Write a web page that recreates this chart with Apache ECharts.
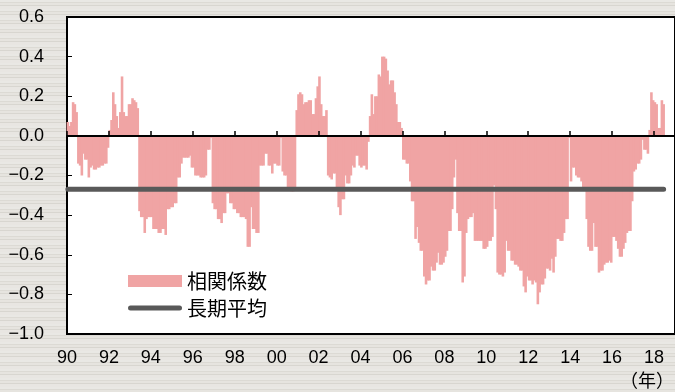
<!DOCTYPE html>
<html>
<head>
<meta charset="utf-8">
<script src="https://cdn.jsdelivr.net/npm/echarts@6/dist/echarts.min.js"></script>
<style>
  html, body { margin: 0; padding: 0; }
  body {
    width: 675px; height: 392px; overflow: hidden;
    background-color: #e3e1dc;
    background-image: repeating-linear-gradient(180deg,
      #e9e8e4 0px, #e9e8e4 2px,
      #dcdad4 2px, #dcdad4 3px,
      #e6e4df 3px, #e6e4df 5px,
      #d8d6d0 5px, #d8d6d0 6px,
      #e8e6e2 6px, #e8e6e2 9px);
  }
  #chart { width: 675px; height: 392px; }
</style>
</head>
<body>
<div id="chart"></div>
<script>
// Monthly correlation coefficient, Jan 1990 onward
const startYear = 1990;
const correlation = [
  // 1990
  0.07, 0.05, 0.07, 0.17, 0.16, 0.12, -0.14, -0.15, -0.20, -0.09, -0.12, -0.12,
  // 1991
  -0.21, -0.16, -0.15, -0.17, -0.17, -0.16, -0.16, -0.15, -0.15, -0.14, -0.14, -0.06,
  // 1992
  0.03, 0.08, 0.22, 0.16, 0.10, 0.04, 0.12, 0.30, 0.12, 0.10, 0.10, 0.16,
  // 1993
  0.16, 0.19, 0.18, 0.17, 0.14, -0.38, -0.41, -0.41, -0.49, -0.42, -0.41, -0.41,
  // 1994
  -0.41, -0.47, -0.47, -0.47, -0.49, -0.49, -0.47, -0.47, -0.50, -0.37, -0.37, -0.36,
  // 1995
  -0.36, -0.34, -0.34, -0.21, -0.21, -0.14, -0.11, -0.11, -0.11, -0.11, -0.10, -0.16,
  // 1996
  -0.16, -0.20, -0.20, -0.20, -0.21, -0.21, -0.21, -0.20, -0.07, -0.07, -0.01, -0.34,
  // 1997
  -0.37, -0.37, -0.42, -0.42, -0.44, -0.39, -0.39, -0.29, -0.29, -0.34, -0.34, -0.37,
  // 1998
  -0.37, -0.39, -0.39, -0.41, -0.41, -0.41, -0.42, -0.56, -0.56, -0.36, -0.47, -0.47,
  // 1999
  -0.49, -0.49, -0.15, -0.15, -0.15, -0.09, -0.09, -0.15, -0.15, -0.19, -0.14, -0.14,
  // 2000
  -0.15, -0.15, -0.01, -0.18, -0.20, -0.20, -0.26, -0.26, -0.28, -0.28, -0.26, 0.13,
  // 2001
  0.21, 0.22, 0.21, 0.16, 0.17, 0.17, 0.18, 0.18, 0.11, 0.11, 0.19, 0.25,
  // 2002
  0.30, 0.16, 0.10, 0.10, 0.13, -0.20, -0.21, -0.22, -0.19, -0.19, -0.26, -0.36,
  // 2003
  -0.40, -0.32, -0.32, -0.20, -0.24, -0.24, -0.20, -0.15, -0.16, -0.10, -0.10, -0.15,
  // 2004
  -0.16, -0.15, -0.15, -0.17, -0.03, 0.10, 0.21, 0.11, 0.20, 0.20, 0.31, 0.30,
  // 2005
  0.40, 0.40, 0.39, 0.33, 0.26, 0.28, 0.28, 0.22, 0.16, 0.07, 0.07, 0.04,
  // 2006
  -0.12, -0.12, -0.14, -0.14, -0.23, -0.33, -0.33, -0.52, -0.46, -0.54, -0.58, -0.58,
  // 2007
  -0.71, -0.75, -0.73, -0.73, -0.66, -0.68, -0.68, -0.64, -0.59, -0.65, -0.65, -0.64,
  // 2008
  -0.61, -0.58, -0.48, -0.48, -0.37, -0.21, -0.12, -0.39, -0.48, -0.48, -0.74, -0.71,
  // 2009
  -0.49, -0.42, -0.41, -0.41, -0.39, -0.53, -0.53, -0.53, -0.53, -0.53, -0.57, -0.57,
  // 2010
  -0.56, -0.53, -0.53, -0.51, -0.25, -0.37, -0.69, -0.70, -0.70, -0.71, -0.69, -0.53,
  // 2011
  -0.58, -0.58, -0.63, -0.63, -0.65, -0.65, -0.66, -0.68, -0.68, -0.76, -0.79, -0.71,
  // 2012
  -0.73, -0.73, -0.75, -0.73, -0.74, -0.85, -0.79, -0.75, -0.75, -0.72, -0.67, -0.67,
  // 2013
  -0.68, -0.62, -0.69, -0.61, -0.52, -0.52, -0.53, -0.53, -0.49, -0.42, -0.42, -0.01,
  // 2014
  -0.23, -0.16, -0.16, -0.20, -0.21, -0.21, -0.23, -0.26, -0.26, -0.42, -0.56, -0.58,
  // 2015
  -0.58, -0.44, -0.56, -0.56, -0.69, -0.68, -0.68, -0.65, -0.64, -0.64, -0.63, -0.64,
  // 2016
  -0.51, -0.51, -0.53, -0.57, -0.61, -0.61, -0.57, -0.54, -0.49, -0.48, -0.48, -0.33,
  // 2017
  -0.18, -0.17, -0.14, -0.14, -0.12, -0.02, -0.07, -0.07, -0.09, 0.03, 0.22, 0.18,
  // 2018
  0.17, 0.16, 0.04, 0.04, 0.18, 0.16
];
const longTermAverage = -0.27;

const seriesNames = ['相関係数', '長期平均'];
const xMin = 1990, xMax = 2019, xStep = 2;
const yMin = -1.0, yMax = 0.6, yStep = 0.2;
const unitLabel = '（年）';

// month i sits at the middle of its month on a decimal-year axis
const monthX = i => startYear + (i + 0.5) / 12;
const barData = correlation.map((v, i) => [monthX(i), v]);
const avgData = correlation.map((_, i) => [monthX(i), longTermAverage]);

const latinFont = '"Liberation Sans", Arial, sans-serif';
const cjkFont = '"Noto Sans CJK JP", sans-serif';

// rounded-bar legend glyph for the average line
const lineIcon = 'path://M2.5,0H51.5A2.5,2.5,0,0,1,51.5,5H2.5A2.5,2.5,0,0,1,2.5,0Z';

const chart = echarts.init(document.getElementById('chart'), null, { renderer: 'canvas' });
chart.setOption({
  animation: false,
  backgroundColor: 'transparent',
  grid: {
    left: 67, top: 17, width: 609, height: 317,
    show: true, backgroundColor: '#ffffff',
    borderColor: '#000000', borderWidth: 2
  },
  legend: {
    data: [
      { name: seriesNames[0], icon: 'rect' },
      { name: seriesNames[1], icon: lineIcon }
    ],
    orient: 'vertical',
    left: 123, top: 266,
    itemWidth: 54, itemHeight: 12, itemGap: 7,
    textStyle: { fontFamily: cjkFont, fontSize: 20, lineHeight: 20, color: '#000' }
  },
  xAxis: [
    {
      // axis along y = 0 with upward ticks
      type: 'value', min: xMin, max: xMax, interval: xStep,
      position: 'bottom', z: 5,
      axisLine: { onZero: true, lineStyle: { color: '#000', width: 2 } },
      axisTick: { inside: true, length: 5, lineStyle: { color: '#000', width: 1.5 } },
      axisLabel: { show: false },
      splitLine: { show: false }
    },
    {
      // year labels along the bottom edge
      type: 'value', min: xMin, max: xMax, interval: xStep,
      position: 'bottom',
      axisLine: { show: false, onZero: false },
      axisTick: { show: false },
      splitLine: { show: false },
      axisLabel: {
        margin: 15, fontSize: 18, fontFamily: latinFont, color: '#000',
        showMaxLabel: false,
        formatter: v => (v % 2 === 0 && v <= 2018) ? String(v % 100).padStart(2, '0') : ''
      }
    }
  ],
  yAxis: {
    type: 'value', min: yMin, max: yMax, interval: yStep,
    axisLine: { show: true, lineStyle: { color: '#000', width: 2 } },
    axisTick: { show: true, inside: true, length: 5, lineStyle: { color: '#000', width: 1 } },
    splitLine: { show: false },
    axisLabel: {
      margin: 23, fontSize: 18, fontFamily: latinFont, color: '#000',
      formatter: v => v.toFixed(1).replace('-', '−')
    }
  },
  series: [
    {
      name: seriesNames[0], type: 'bar',
      xAxisIndex: 0, yAxisIndex: 0,
      data: barData,
      // slightly wider than a month so neighbouring bars merge without seams
      barWidth: 2.6, barMinWidth: 2.6,
      itemStyle: { color: '#f0a4a4' }
    },
    {
      name: seriesNames[1], type: 'line',
      xAxisIndex: 0, yAxisIndex: 0,
      data: avgData, symbol: 'none',
      lineStyle: { color: '#595959', width: 5, cap: 'round' },
      itemStyle: { color: '#595959' }
    }
  ],
  graphic: [
    {
      type: 'text', left: 620, top: 371,
      style: { text: unitLabel, font: '18px ' + cjkFont, fill: '#000' }
    }
  ]
});
</script>
</body>
</html>
